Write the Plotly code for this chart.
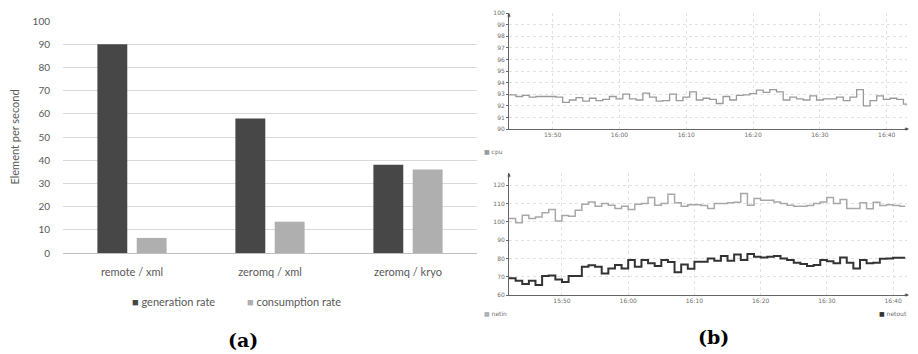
import pandas as pd
import plotly.graph_objects as go

# ---------------- data ----------------
categories = ["remote / xml", "zeromq / xml", "zeromq / kryo"]
generation_rate = [90, 58, 38]
consumption_rate = [6.5, 13.5, 36]
bar_ticks = [0, 10, 20, 30, 40, 50, 60, 70, 80, 90, 100]

cpu = [92.94, 92.8, 92.9, 92.75, 92.8, 92.8, 92.8, 92.75, 92.3, 92.5,
       92.7, 92.4, 92.65, 92.45, 92.55, 92.8, 92.6, 93.0, 92.6, 92.5,
       93.1, 92.75, 92.4, 92.45, 93.0, 92.45, 92.75, 93.2, 92.5, 92.65,
       92.55, 92.2, 92.8, 92.5, 92.9, 92.95, 93.05, 93.35, 93.15, 93.4,
       93.2, 92.5, 92.75, 92.6, 92.5, 92.85, 92.5, 92.6, 92.6, 92.75,
       92.45, 92.75, 93.4, 92.0, 92.45, 92.85, 92.55, 92.65, 92.55, 92.15]

netin = [101.8, 99.5, 103.6, 101.8, 102.7, 104.9, 106.7, 100.5, 103.5, 103.1,
         106.4, 109.6, 110.9, 108.5, 110.0, 109.1, 107.3, 108.5, 106.7, 109.6,
         110.0, 113.3, 109.1, 110.0, 115.1, 110.4, 108.5, 109.3, 109.3, 108.9,
         107.3, 110.0, 110.0, 110.4, 110.7, 115.5, 109.1, 112.7, 111.8, 111.8,
         110.9, 110.0, 109.1, 108.5, 108.5, 108.9, 110.0, 110.9, 113.3, 110.0,
         112.2, 107.3, 107.3, 110.4, 107.1, 110.7, 108.9, 109.3, 108.9, 108.5]

netout = [69.1, 67.8, 66.0, 67.8, 65.5, 70.4, 70.7, 68.5, 67.1, 70.4,
          70.4, 75.5, 76.2, 75.5, 71.8, 74.5, 76.4, 74.5, 79.1, 75.5,
          79.1, 77.3, 75.8, 79.1, 78.0, 72.4, 76.7, 74.4, 78.2, 78.2,
          80.0, 78.7, 81.3, 78.7, 82.2, 79.1, 82.4, 80.9, 80.5, 80.9,
          81.3, 80.0, 79.1, 77.6, 76.9, 75.8, 76.4, 79.1, 78.5, 77.3,
          80.5, 77.6, 74.5, 79.1, 77.3, 77.6, 79.8, 80.0, 80.4, 80.4]

cpu_start = "2015-01-01 15:43:30"
net_start = "2015-01-01 15:42:00"
cpu_ticks = [90, 91, 92, 93, 94, 95, 96, 97, 98, 99, 100]
net_ticks = [60, 70, 80, 90, 100, 110, 120]

# ---------------- helpers ----------------
# the page body has an 8px default margin, so the figure sits at (8, 8)
OFF = 8
PAGE_W, PAGE_H = 918, 354
W, H = PAGE_W - 2 * OFF, PAGE_H - OFF


def px_x(p):
    return (p - OFF) / W


def px_y(p):
    return (PAGE_H - p) / H


def step_series(start, values):
    t = list(pd.date_range(start, periods=len(values), freq="1min"))
    t.append(t[-1] + pd.Timedelta(seconds=50))
    v = list(values) + [values[-1]]
    return t, v


cpu_t, cpu_v = step_series(cpu_start, cpu)
in_t, in_v = step_series(net_start, netin)
out_t, out_v = step_series(net_start, netout)

GEN_C = "#474747"
CONS_C = "#afafaf"

fig = go.Figure()

# ---------------- panel (a) ----------------
fig.add_trace(go.Bar(x=categories, y=generation_rate, name="generation rate",
                     marker=dict(color=GEN_C, line=dict(width=0)),
                     xaxis="x", yaxis="y", showlegend=False))
fig.add_trace(go.Bar(x=categories, y=consumption_rate, name="consumption rate",
                     marker=dict(color=CONS_C, line=dict(width=0)),
                     xaxis="x", yaxis="y", showlegend=False))

# ---------------- panel (b) ----------------
fig.add_trace(go.Scatter(x=cpu_t, y=cpu_v, mode="lines", line_shape="hv",
                         line=dict(color="#9a9a9a", width=1.3),
                         xaxis="x2", yaxis="y2", showlegend=False, name="cpu"))
fig.add_trace(go.Scatter(x=in_t, y=in_v, mode="lines", line_shape="hv",
                         line=dict(color="#a8a8a8", width=1.5),
                         xaxis="x3", yaxis="y3", showlegend=False, name="netin"))
fig.add_trace(go.Scatter(x=out_t, y=out_v, mode="lines", line_shape="hv",
                         line=dict(color="#333333", width=2),
                         xaxis="x3", yaxis="y3", showlegend=False, name="netout"))

small = dict(family="DejaVu Sans", size=6, color="#6e6e6e")
grid_b = dict(showgrid=True, gridcolor="#e2e2e2", griddash="dot", gridwidth=1)

fig.update_layout(
    width=W, height=H,
    margin=dict(l=0, r=0, t=0, b=0, autoexpand=False),
    paper_bgcolor="white", plot_bgcolor="white",
    barmode="group", bargap=0.43, bargroupgap=0.24,
    font=dict(family="Lato", size=11, color="#595959"),
    showlegend=False,
    xaxis=dict(domain=[px_x(63), px_x(477)], anchor="y", showgrid=False,
               showline=True, linecolor="#bfbfbf", linewidth=1, ticks="",
               automargin=False, ticklabelstandoff=9,
               tickfont=dict(family="Lato", size=11, color="#595959")),
    yaxis=dict(domain=[px_y(253), px_y(21)], anchor="x", range=[0, 100],
               tickvals=bar_ticks, showgrid=True, gridcolor="#d9d9d9", gridwidth=1,
               zeroline=False, showline=False, ticks="", ticklabelstandoff=12,
               automargin=False,
               tickfont=dict(family="Lato", size=10, color="#595959"),
               title=dict(text="Element per second", standoff=11,
                          font=dict(family="Lato", size=11, color="#595959"))),
    xaxis2=dict(domain=[px_x(509), px_x(907)], anchor="y2", type="date",
                range=["2015-01-01 15:43:28", "2015-01-01 16:43:02"],
                tick0="2015-01-01 15:50", dtick=600000, tickformat="%H:%M",
                showline=True, linecolor="#666666", linewidth=1, ticks="",
                automargin=False, ticklabelstandoff=0,
                tickfont=small, **grid_b),
    yaxis2=dict(domain=[px_y(129), px_y(13)], anchor="x2", range=[90, 100],
                tickvals=cpu_ticks, showline=True, linecolor="#666666", linewidth=1,
                ticks="outside", ticklen=2, tickcolor="#666666", zeroline=False,
                automargin=False, tickfont=small, **grid_b),
    xaxis3=dict(domain=[px_x(509), px_x(907)], anchor="y3", type="date",
                range=["2015-01-01 15:42:00", "2015-01-01 16:42:06"],
                tick0="2015-01-01 15:50", dtick=600000, tickformat="%H:%M",
                showline=True, linecolor="#666666", linewidth=1, ticks="",
                automargin=False, ticklabelstandoff=0,
                tickfont=small, **grid_b),
    yaxis3=dict(domain=[px_y(295), px_y(173)], anchor="x3", range=[60, 126.7],
                tickvals=net_ticks, ticksuffix=" k", showline=True,
                linecolor="#666666", linewidth=1, ticks="outside", ticklen=2,
                tickcolor="#666666", zeroline=False, automargin=False,
                tickfont=small, **grid_b),
)

leg_font = dict(family="Lato", size=11, color="#595959")


def note(text, x, y, xanchor="left", font=None):
    return dict(text=text, x=px_x(x), y=px_y(y), xref="paper", yref="paper",
                xanchor=xanchor, yanchor="middle", showarrow=False, font=font)


annotations = [
    note(f'<span style="color:{GEN_C}">■</span> generation rate', 130, 301, font=leg_font),
    note(f'<span style="color:{CONS_C}">■</span> consumption rate', 245, 301, font=leg_font),
    note("<b>(a)</b>", 243, 340, "center",
         dict(family="DejaVu Serif", size=19, color="#000000")),
    note("<b>(b)</b>", 713, 337, "center",
         dict(family="DejaVu Serif", size=19, color="#000000")),
    note('<span style="color:#9a9a9a">■</span> cpu', 482, 152, font=small),
    note('<span style="color:#b0b0b0">■</span> netin', 482, 313, font=small),
    note('<span style="color:#333333">■</span> netout', 909, 313, "right", small),
]
# axis arrows
for (x0, y0, ax, ay) in [(909, 129, -6, 0), (509, 13, 0, 6), (909, 295, -6, 0), (509, 173, 0, 6)]:
    annotations.append(dict(x=px_x(x0), y=px_y(y0), xref="paper", yref="paper",
                            ax=ax, ay=ay, showarrow=True, arrowhead=2, arrowsize=0.7,
                            arrowwidth=1, arrowcolor="#555555", text=""))
fig.update_layout(annotations=annotations)

fig.write_html("out.html")
